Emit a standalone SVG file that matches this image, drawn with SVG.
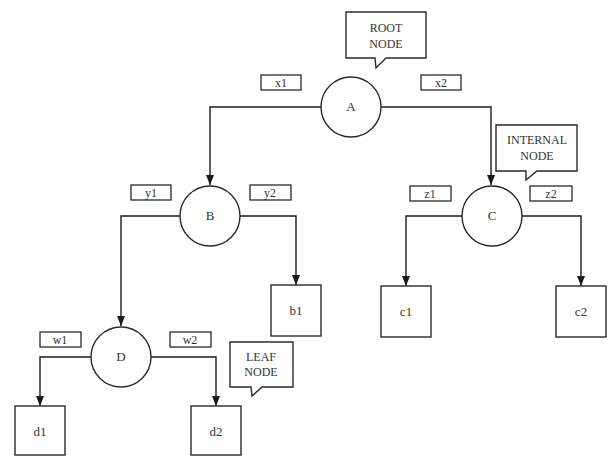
<svg xmlns="http://www.w3.org/2000/svg" width="610" height="456" viewBox="0 0 610 456">
<style>
.ln{fill:none;stroke:#1a1a1a;stroke-width:1.4}
.nd{fill:#fff;stroke:#2a2a2a;stroke-width:1.4}
.lb{fill:#fff;stroke:#2a2a2a;stroke-width:1.3}
.t{font-family:"Liberation Serif","Times New Roman",serif;font-size:13px;fill:#333;text-anchor:middle}
.s{font-family:"Liberation Serif","Times New Roman",serif;font-size:12px;fill:#333;text-anchor:middle}
</style>
<rect width="610" height="456" fill="#fff"/>
<g id="connectors">
<path class="ln" d="M321,107 H210 V185"/>
<path class="ln" d="M381,107 H491 V185"/>
<path class="ln" d="M180,216 H121 V326"/>
<path class="ln" d="M240,216 H296 V285"/>
<path class="ln" d="M462,216 H406 V286"/>
<path class="ln" d="M522,216 H581 V286"/>
<path class="ln" d="M91,357 H40 V406"/>
<path class="ln" d="M151,357 H216 V406"/>
</g>
<g id="arrowheads" fill="#1a1a1a">
<path d="M206,175 L214,175 L210,185 Z"/>
<path d="M487,175 L495,175 L491,185 Z"/>
<path d="M117,316 L125,316 L121,326 Z"/>
<path d="M292,275 L300,275 L296,285 Z"/>
<path d="M402,276 L410,276 L406,286 Z"/>
<path d="M577,276 L585,276 L581,286 Z"/>
<path d="M36,396 L44,396 L40,406 Z"/>
<path d="M212,396 L220,396 L216,406 Z"/>
</g>
<g id="edge-labels">
<g id="lbl-x1"><rect class="lb" x="261" y="75" width="40" height="15"/><text class="s" x="281" y="87">x1</text></g>
<g id="lbl-x2"><rect class="lb" x="421" y="75" width="40" height="15"/><text class="s" x="441" y="87">x2</text></g>
<g id="lbl-y1"><rect class="lb" x="131" y="185" width="40" height="15"/><text class="s" x="151" y="197">y1</text></g>
<g id="lbl-y2"><rect class="lb" x="250" y="185" width="41" height="15"/><text class="s" x="270" y="197">y2</text></g>
<g id="lbl-z1"><rect class="lb" x="410" y="186" width="41" height="15"/><text class="s" x="430" y="198">z1</text></g>
<g id="lbl-z2"><rect class="lb" x="530" y="186" width="42" height="15"/><text class="s" x="551" y="198">z2</text></g>
<g id="lbl-w1"><rect class="lb" x="40" y="332" width="41" height="15"/><text class="s" x="60" y="344">w1</text></g>
<g id="lbl-w2"><rect class="lb" x="170" y="332" width="41" height="15"/><text class="s" x="190" y="344">w2</text></g>
</g>
<g id="node-A"><circle class="nd" cx="351" cy="107" r="30"/><text class="t" x="351" y="111">A</text></g>
<g id="node-B"><circle class="nd" cx="210" cy="216" r="30"/><text class="t" x="210" y="220">B</text></g>
<g id="node-C"><circle class="nd" cx="492" cy="216" r="30"/><text class="t" x="492" y="220">C</text></g>
<g id="node-D"><circle class="nd" cx="121" cy="357" r="30"/><text class="t" x="121" y="361">D</text></g>
<g id="node-b1"><rect class="nd" x="271" y="285" width="50" height="51"/><text class="t" x="296" y="315">b1</text></g>
<g id="node-c1"><rect class="nd" x="381" y="286" width="50" height="51"/><text class="t" x="406" y="316">c1</text></g>
<g id="node-c2"><rect class="nd" x="556" y="286" width="50" height="51"/><text class="t" x="581" y="316">c2</text></g>
<g id="node-d1"><rect class="nd" x="15" y="406" width="50" height="49"/><text class="t" x="40" y="436">d1</text></g>
<g id="node-d2"><rect class="nd" x="191" y="406" width="50" height="49"/><text class="t" x="216" y="436">d2</text></g>
<g id="callout-root"><path class="nd" d="M346,12 H426 V58 H386 L376,68 L375,58 H346 Z"/><text class="s" x="386" y="32">ROOT</text><text class="s" x="386" y="48">NODE</text></g>
<g id="callout-internal"><path class="nd" d="M496,125 H577 V171 H537 L526,180 L526,171 H496 Z"/><text class="s" x="537" y="144">INTERNAL</text><text class="s" x="537" y="160">NODE</text></g>
<g id="callout-leaf"><path class="nd" d="M230,342 H293 V387 H262 L252,396 L251,387 H230 Z"/><text class="s" x="261" y="361">LEAF</text><text class="s" x="261" y="376">NODE</text></g>
</svg>
